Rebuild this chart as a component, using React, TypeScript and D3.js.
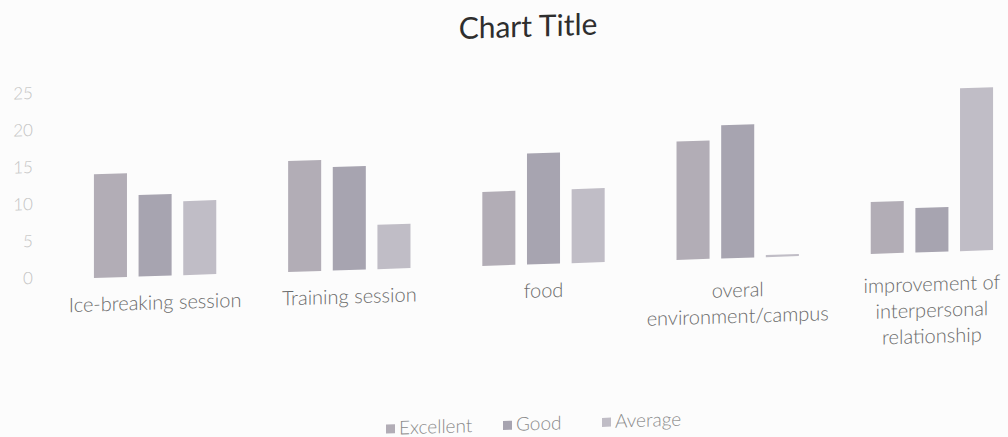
import React from "react";
import * as d3 from "d3";

const categories: string[][] = [
  ["Ice-breaking session"],
  ["Training session"],
  ["food"],
  ["overal", "environment/campus"],
  ["improvement of", "interpersonal", "relationship"],
];
const seriesNames = ["Excellent", "Good", "Average"];
const excellent = [14, 15, 10, 16, 7];
const good = [11, 14, 15, 18, 6];
const average = [10, 6, 10, 0.3, 22];
const yTicks = [0, 5, 10, 15, 20, 25];

const seriesValues = [excellent, good, average];
const colors = ["#b2adb6", "#a7a4b0", "#c0bdc6"];

const W = 1008;
const H = 437;
const baseY = 280.8;
const topY = 95.8;

export default function App() {
  const catKeys = categories.map((c) => c.join(" "));
  const x0 = d3
    .scaleBand<string>()
    .domain(catKeys)
    .range([58, 1029])
    .paddingInner(0.37)
    .paddingOuter(0.185);
  const x1 = d3
    .scaleBand<string>()
    .domain(seriesNames)
    .range([0, x0.bandwidth()])
    .paddingInner(0.26);
  const y = d3.scaleLinear().domain([0, 25]).range([baseY, topY]);
  const font = "Lato, 'Open Sans', sans-serif";

  const legendX = [386, 503, 602];

  return (
    <svg
      width={W}
      height={H}
      style={{ position: "absolute", left: 0, top: 0, background: "#fcfcfc" }}
    >
      <g transform="skewY(-1.77)">
        <text
          x={528}
          y={45.5}
          textAnchor="middle"
          dominantBaseline="middle"
          fontFamily={font}
          fontSize={30}
          fill="#2e2e2e"
        >
          Chart Title
        </text>
        {yTicks.map((t) => (
          <text
            key={t}
            x={33}
            y={y(t)}
            textAnchor="end"
            dominantBaseline="middle"
            fontFamily={font}
            fontWeight={300}
            fontSize={17}
            fill="#c2c2c2"
          >
            {t}
          </text>
        ))}
        {catKeys.map((k, ci) => (
          <g key={k} transform={`translate(${x0(k)},0)`}>
            {seriesNames.map((s, si) => {
              const v = seriesValues[si][ci];
              return (
                <rect
                  key={s}
                  x={x1(s)}
                  y={y(v)}
                  width={x1.bandwidth()}
                  height={baseY - y(v)}
                  fill={colors[si]}
                />
              );
            })}
            {categories[ci].map((line, li) => (
              <text
                key={li}
                x={x0.bandwidth() / 2}
                y={baseY + (categories[ci].length > 1 ? 34 : 28.5) + li * 26}
                textAnchor="middle"
                dominantBaseline="middle"
                fontFamily={font}
                fontWeight={300}
                fontSize={20}
                fill="#6a6a6a"
              >
                {line}
              </text>
            ))}
          </g>
        ))}
        {seriesNames.map((s, i) => (
          <g key={s} transform={`translate(${legendX[i]},${442})`}>
            <rect x={0} y={-5.5} width={9} height={9} fill={colors[i]} />
            <text
              x={13}
              y={0}
              dominantBaseline="middle"
              fontFamily={font}
              fontWeight={300}
              fontSize={19}
              fill="#8a8a8a"
            >
              {s}
            </text>
          </g>
        ))}
      </g>
    </svg>
  );
}
